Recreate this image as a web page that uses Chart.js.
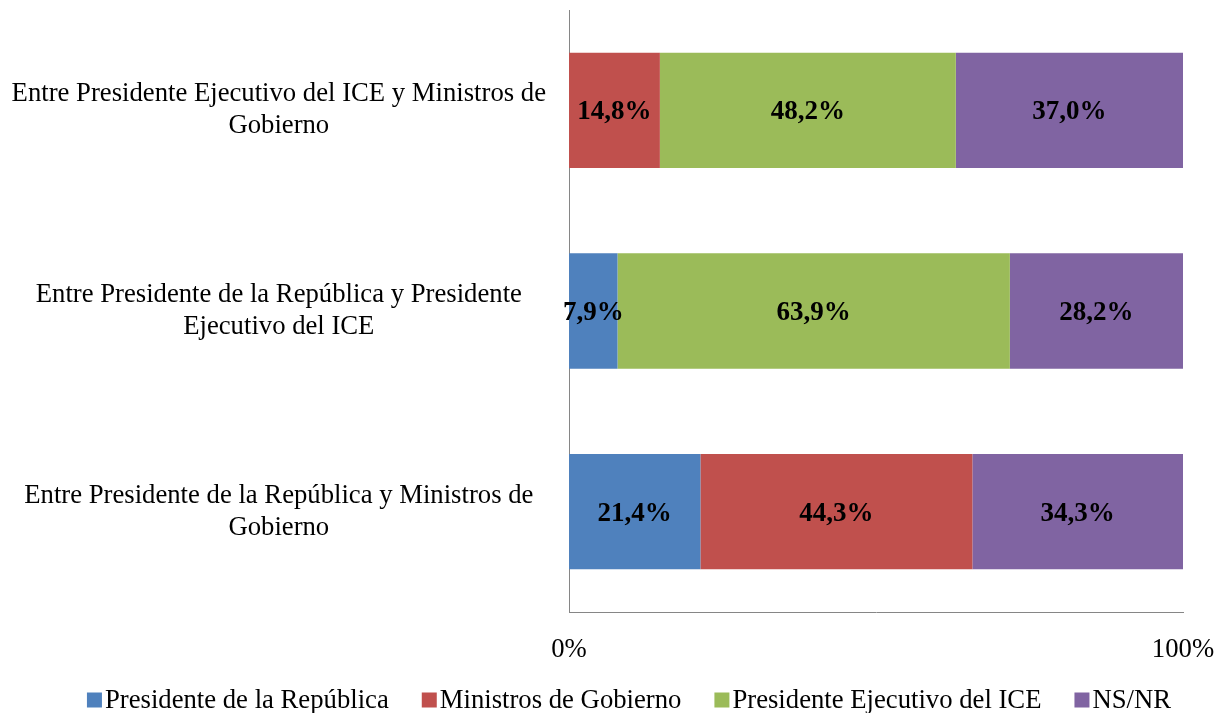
<!DOCTYPE html>
<html>
<head>
<meta charset="utf-8">
<script src="https://cdn.jsdelivr.net/npm/chart.js@4/dist/chart.umd.min.js"></script>
<style>
  html, body { margin: 0; padding: 0; background: #fff; }
  #wrap { width: 1217px; height: 713px; }
</style>
</head>
<body>
<div id="wrap"><canvas id="chart" width="1217" height="713"></canvas></div>
<script>
// categories, top to bottom
const categories = [
    ["Entre Presidente Ejecutivo del ICE y Ministros de", "Gobierno"],
    ["Entre Presidente de la República y Presidente", "Ejecutivo del ICE"],
    ["Entre Presidente de la República y Ministros de", "Gobierno"]
];
const seriesNames = ["Presidente de la República", "Ministros de Gobierno", "Presidente Ejecutivo del ICE", "NS/NR"];
const presidenteRepublica = [0, 7.9, 21.4];
const ministrosGobierno = [14.8, 0, 44.3];
const presidenteICE = [48.2, 63.9, 0];
const nsnr = [37.0, 28.2, 34.3];
const xTicks = [0, 100];

const colors = ["#4F81BD", "#C0504D", "#9BBB59", "#8064A2"];
const FONT = "'Liberation Serif', 'Times New Roman', serif";
const FONT_SIZE = 26.7;

// value labels inside the bars
const barLabels = {
    id: "barLabels",
    afterDatasetsDraw(chart) {
        const ctx = chart.ctx;
        ctx.save();
        ctx.font = "bold 27px " + FONT;
        ctx.fillStyle = "#000";
        ctx.textAlign = "center";
        ctx.textBaseline = "middle";
        chart.data.datasets.forEach((ds, i) => {
            chart.getDatasetMeta(i).data.forEach((bar, j) => {
                const v = ds.data[j];
                if (!v) return;
                const cx = (bar.x + bar.base) / 2;
                ctx.fillText(v.toFixed(1).replace(".", ",") + "%", cx, bar.y + 2);
            });
        });
        ctx.restore();
    }
};

// legend drawn like the office one: small square, tight gap
const bottomLegend = {
    id: "bottomLegend",
    afterDraw(chart) {
        const ctx = chart.ctx;
        const box = 15, gap = 3, itemGap = 33, y = 700;
        ctx.save();
        ctx.font = FONT_SIZE + "px " + FONT;
        ctx.textBaseline = "middle";
        const widths = chart.data.datasets.map(ds => ctx.measureText(ds.label).width);
        const total = widths.reduce((a, w) => a + box + gap + w, 0) + itemGap * (widths.length - 1);
        let x = 629 - total / 2;
        chart.data.datasets.forEach((ds, i) => {
            ctx.fillStyle = ds.backgroundColor;
            ctx.fillRect(x, y - box / 2, box, box);
            ctx.fillStyle = "#000";
            ctx.fillText(ds.label, x + box + gap, y + 1);
            x += box + gap + widths[i] + itemGap;
        });
        ctx.restore();
    }
};

const allSeries = [presidenteRepublica, ministrosGobierno, presidenteICE, nsnr];

new Chart(document.getElementById("chart"), {
    type: "bar",
    data: {
        labels: categories,
        datasets: allSeries.map((d, i) => ({
            label: seriesNames[i],
            data: d,
            backgroundColor: colors[i],
            borderWidth: 0,
            barPercentage: 0.575,
            categoryPercentage: 1
        }))
    },
    options: {
        indexAxis: "y",
        responsive: false,
        animation: false,
        layout: { padding: { top: 10, right: 34, bottom: 0, left: 0 } },
        scales: {
            x: {
                stacked: true,
                min: 0,
                max: 100,
                afterBuildTicks: (axis) => { axis.ticks = xTicks.map(v => ({ value: v })); },
                afterFit: (axis) => {
                    axis.height = 101;
                    axis.paddingLeft = 0;
                    axis.paddingRight = 0;
                },
                grid: { display: false, drawTicks: false },
                border: { color: "#868686", width: 1 },
                ticks: {
                    padding: 22,
                    maxRotation: 0,
                    color: "#000",
                    font: { family: FONT, size: FONT_SIZE, lineHeight: 1.2 },
                    callback: (v) => v + "%"
                }
            },
            y: {
                stacked: true,
                grid: { display: false, drawTicks: false },
                border: { color: "#868686", width: 1 },
                afterFit: (axis) => {
                    axis.width = 569;
                    axis.paddingTop = 0;
                    axis.paddingBottom = 0;
                },
                ticks: {
                    padding: 23,
                    crossAlign: "center",
                    color: "#000",
                    font: { family: FONT, size: FONT_SIZE, lineHeight: 1.2 }
                }
            }
        },
        plugins: {
            legend: { display: false },
            tooltip: { enabled: false }
        }
    },
    plugins: [barLabels, bottomLegend]
});
</script>
</body>
</html>
